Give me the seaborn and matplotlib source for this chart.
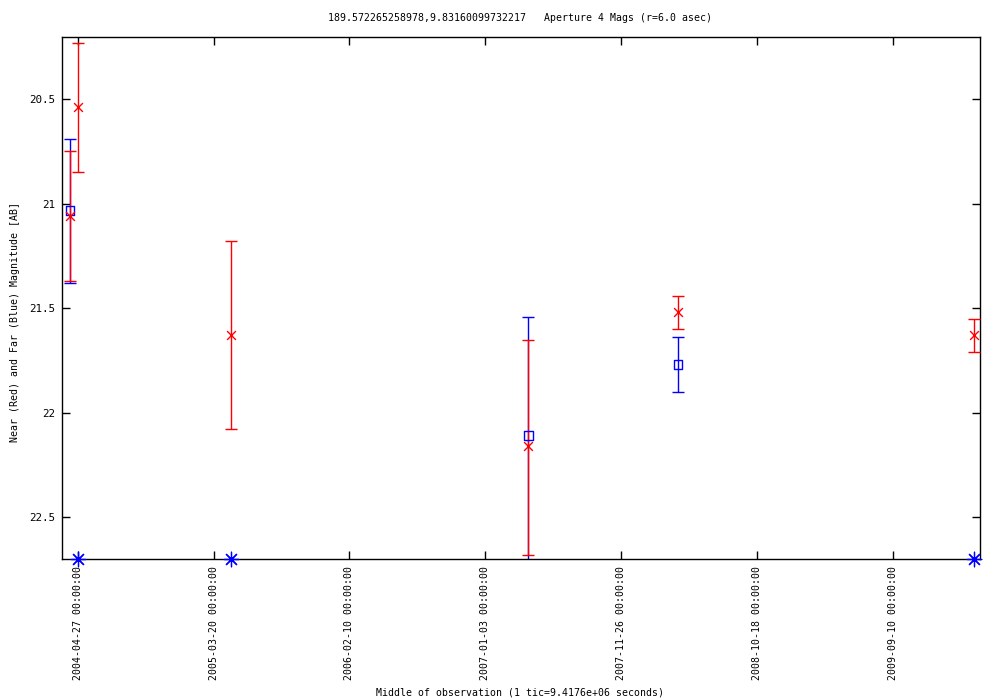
import matplotlib
matplotlib.use("Agg")
import matplotlib.pyplot as plt
import matplotlib.dates as mdates
import seaborn as sns
import pandas as pd
import numpy as np

# ---- data ----
near_dates = ["2004-04-08", "2004-04-27", "2005-05-02", "2007-04-17", "2008-04-11", "2010-03-24"]
near_mag = [21.06, 20.54, 21.63, 22.16, 21.52, 21.63]
near_lo = [20.75, 20.23, 21.18, 21.65, 21.44, 21.55]   # upper end (brighter)
near_hi = [21.37, 20.85, 22.08, 22.68, 21.60, 21.71]   # lower end (fainter)

far_dates = ["2004-04-08", "2007-04-17", "2008-04-11"]
far_mag = [21.033, 22.11, 21.77]
far_lo = [20.69, 21.54, 21.64]
far_hi = [21.38, 22.95, 21.90]

far_limit_dates = ["2004-04-27", "2005-05-02", "2010-03-24"]

tick_dates = ["2004-04-27", "2005-03-20", "2006-02-10", "2007-01-03",
              "2007-11-26", "2008-10-18", "2009-09-10"]
y_ticks = [20.5, 21, 21.5, 22, 22.5]
y_tick_labels = ["20.5", "21", "21.5", "22", "22.5"]

title = "189.572265258978,9.83160099732217   Aperture 4 Mags (r=6.0 asec)"
xlabel = "Middle of observation (1 tic=9.4176e+06 seconds)"
ylabel = "Near (Red) and Far (Blue) Magnitude [AB]"

near = pd.DataFrame({"date": pd.to_datetime(near_dates), "mag": near_mag,
                     "lo": near_lo, "hi": near_hi})
far = pd.DataFrame({"date": pd.to_datetime(far_dates), "mag": far_mag,
                    "lo": far_lo, "hi": far_hi})

sns.set_style("ticks")
plt.rcParams['font.family'] = ['DejaVu Sans Mono', 'DejaVu Sans']

fig = plt.figure(figsize=(10, 7), dpi=100)
ax = fig.add_axes([0.062, 0.2014, 0.918, 0.7457])

RED = "#ff0000"
BLUE = "#0000ff"

# error bars
ax.errorbar(far["date"], far["mag"],
            yerr=[far["mag"] - far["lo"], far["hi"] - far["mag"]],
            fmt="none", ecolor=BLUE, elinewidth=1, capsize=4.5, capthick=1, zorder=2)
ax.errorbar(near["date"], near["mag"],
            yerr=[near["mag"] - near["lo"], near["hi"] - near["mag"]],
            fmt="none", ecolor=RED, elinewidth=1, capsize=4.5, capthick=1, zorder=3)

sns.scatterplot(data=far, x="date", y="mag", marker="s", s=40,
                facecolor="none", edgecolor=BLUE, linewidth=1, ax=ax, zorder=4)
sns.scatterplot(data=near, x="date", y="mag", marker="x", s=40,
                color=RED, linewidth=1, ax=ax, zorder=5)

ylim_bottom = 22.70
ylim_top = 20.203
lim_df = pd.DataFrame({"date": pd.to_datetime(far_limit_dates),
                       "mag": [ylim_bottom] * len(far_limit_dates)})
sns.scatterplot(data=lim_df, x="date", y="mag", marker=(8, 2, 0), s=110,
                color=BLUE, edgecolor=BLUE, linewidth=0.9, ax=ax, zorder=6, clip_on=False)

ax.set_ylim(ylim_bottom, ylim_top)
ax.set_xlim(pd.Timestamp("2004-03-20"), pd.Timestamp("2010-04-08"))

ax.set_yticks(y_ticks)
ax.set_yticklabels(y_tick_labels, fontsize=7.8)
ax.set_xticks(pd.to_datetime(tick_dates))
ax.xaxis.set_major_formatter(mdates.DateFormatter("%Y-%m-%d %H:%M:%S"))
for lab in ax.get_xticklabels():
    lab.set_rotation(90)
    lab.set_fontsize(7.1)
    lab.set_va("top")
    lab.set_ha("center")

ax.tick_params(direction="in", top=True, right=True, length=6, width=1,
               color="black", labelcolor="black", pad=5)
for sp in ax.spines.values():
    sp.set_color("black")
    sp.set_linewidth(1)

ax.set_xlabel("")
ax.set_ylabel("")
fig.text(0.52, 0.011, xlabel, ha="center", va="center", fontsize=7.1, color="black")
fig.text(0.015, 0.54, ylabel, ha="center", va="center", rotation=90, fontsize=7.1, color="black")
fig.text(0.52, 0.974, title, ha="center", va="center", fontsize=7.1, color="black")

if ax.get_legend() is not None:
    ax.get_legend().remove()

fig.savefig("out.png", dpi=100, facecolor="white")
